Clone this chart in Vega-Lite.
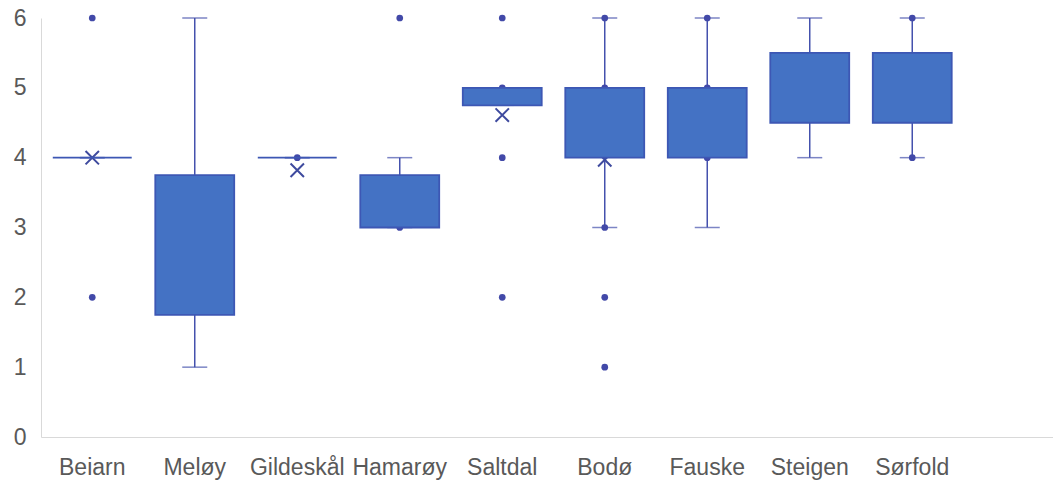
{
  "$schema": "https://vega.github.io/schema/vega-lite/v6.json",
  "autosize": {"type": "none"},
  "width": 1012,
  "height": 419,
  "padding": {"left": 41, "top": 18, "right": 0, "bottom": 45},
  "background": "#ffffff",
  "config": {
    "view": {"stroke": null},
    "font": "Liberation Sans",
    "axis": {"grid": false, "ticks": false, "domainColor": "#d9d9d9", "domainWidth": 1, "labelColor": "#595959", "labelFontSize": 23, "title": null}
  },
  "datasets": {
    "boxes": [
      {"kommune": "Beiarn", "lo": 4, "q1": 4, "median": 4, "q3": 4, "hi": 4, "mean": 4.0},
      {"kommune": "Meløy", "lo": 1, "q1": 1.75, "median": 2.5, "q3": 3.75, "hi": 6, "mean": 2.9},
      {"kommune": "Gildeskål", "lo": 4, "q1": 4, "median": 4, "q3": 4, "hi": 4, "mean": 3.82},
      {"kommune": "Hamarøy", "lo": 3, "q1": 3, "median": 3.5, "q3": 3.75, "hi": 4, "mean": 3.4},
      {"kommune": "Saltdal", "lo": 4.75, "q1": 4.75, "median": 5, "q3": 5, "hi": 5, "mean": 4.61},
      {"kommune": "Bodø", "lo": 3, "q1": 4, "median": 5, "q3": 5, "hi": 6, "mean": 3.97},
      {"kommune": "Fauske", "lo": 3, "q1": 4, "median": 5, "q3": 5, "hi": 6, "mean": 4.6},
      {"kommune": "Steigen", "lo": 4, "q1": 4.5, "median": 5, "q3": 5.5, "hi": 6, "mean": 5.0},
      {"kommune": "Sørfold", "lo": 4, "q1": 4.5, "median": 5, "q3": 5.5, "hi": 6, "mean": 5.0}
    ],
    "points": [
      {"kommune": "Beiarn", "value": 6},
      {"kommune": "Beiarn", "value": 2},
      {"kommune": "Meløy", "value": 2},
      {"kommune": "Gildeskål", "value": 4},
      {"kommune": "Hamarøy", "value": 6},
      {"kommune": "Hamarøy", "value": 3},
      {"kommune": "Saltdal", "value": 6},
      {"kommune": "Saltdal", "value": 5},
      {"kommune": "Saltdal", "value": 4.85},
      {"kommune": "Saltdal", "value": 4},
      {"kommune": "Saltdal", "value": 2},
      {"kommune": "Bodø", "value": 6},
      {"kommune": "Bodø", "value": 5},
      {"kommune": "Bodø", "value": 3},
      {"kommune": "Bodø", "value": 2},
      {"kommune": "Bodø", "value": 1},
      {"kommune": "Fauske", "value": 6},
      {"kommune": "Fauske", "value": 5},
      {"kommune": "Fauske", "value": 4},
      {"kommune": "Sørfold", "value": 6},
      {"kommune": "Sørfold", "value": 4}
    ]
  },
  "encoding": {
    "x": {
      "field": "kommune",
      "type": "nominal",
      "sort": ["Beiarn", "Meløy", "Gildeskål", "Hamarøy", "Saltdal", "Bodø", "Fauske", "Steigen", "Sørfold"],
      "scale": {"paddingInner": 0, "paddingOuter": 0.4366, "align": 0},
      "axis": {"labelAngle": 0, "labelPadding": 19}
    }
  },
  "layer": [
    {
      "data": {"name": "boxes"},
      "mark": {"type": "rule", "color": "#4451ad", "strokeWidth": 1.5},
      "encoding": {
        "y": {"field": "lo", "type": "quantitative", "scale": {"domain": [0, 6], "nice": false}, "axis": {"values": [0, 1, 2, 3, 4, 5, 6], "format": "d", "labelPadding": 15}},
        "y2": {"field": "hi"}
      }
    },
    {
      "data": {"name": "boxes"},
      "mark": {"type": "tick", "color": "#4451ad", "size": 25, "thickness": 1.5, "orient": "horizontal"},
      "encoding": {"y": {"field": "lo", "type": "quantitative"}}
    },
    {
      "data": {"name": "boxes"},
      "mark": {"type": "tick", "color": "#4451ad", "size": 25, "thickness": 1.5, "orient": "horizontal"},
      "encoding": {"y": {"field": "hi", "type": "quantitative"}}
    },
    {
      "data": {"name": "points"},
      "mark": {"type": "point", "shape": "circle", "filled": true, "color": "#4249a8", "size": 45, "opacity": 1},
      "encoding": {"y": {"field": "value", "type": "quantitative"}}
    },
    {
      "data": {"name": "boxes"},
      "mark": {"type": "point", "shape": "M-1,-1L1,1M-1,1L1,-1", "filled": false, "stroke": "#3e4a9e", "strokeWidth": 2, "size": 180, "opacity": 1},
      "encoding": {"y": {"field": "mean", "type": "quantitative"}}
    },
    {
      "data": {"name": "boxes"},
      "mark": {"type": "bar", "fill": "#4472c4", "stroke": "#3d57b4", "strokeWidth": 1.8, "width": {"band": 0.77}},
      "encoding": {
        "y": {"field": "q1", "type": "quantitative"},
        "y2": {"field": "q3"}
      }
    }
  ]
}
